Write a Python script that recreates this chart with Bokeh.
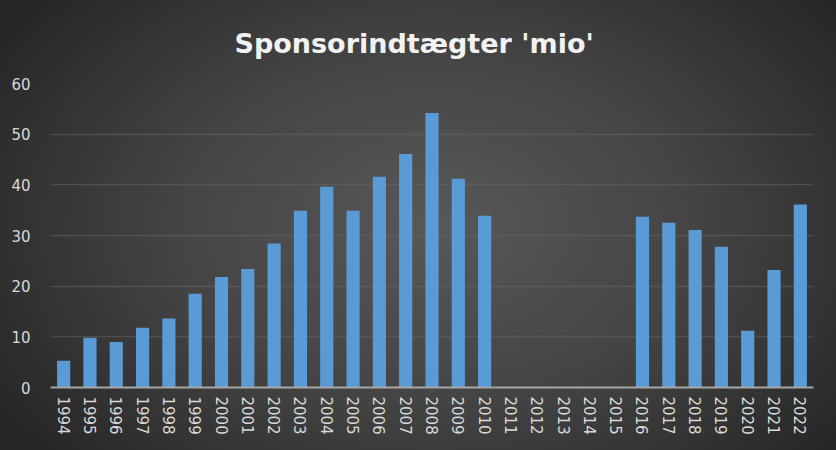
from bokeh.plotting import figure
from bokeh.models import FactorRange, Range1d, SingleIntervalTicker, InlineStyleSheet, Title
from bokeh.embed import file_html
from bokeh.resources import INLINE

years = [str(y) for y in range(1994, 2023)]
values = [5.3, 9.8, 9.0, 11.8, 13.6, 18.5, 21.8, 23.4, 28.4, 34.9, 39.6, 34.9,
          41.6, 46.1, 54.2, 41.2, 33.9, 0, 0, 0, 0, 0, 33.7, 32.5, 31.1, 27.8,
          11.2, 23.2, 36.1]
title_text = "Sponsorindtægter 'mio'"

p = figure(width=836, height=450, x_range=FactorRange(*years, range_padding=0),
           y_range=Range1d(0, 60), output_backend="svg", toolbar_location=None,
           min_border_left=50, min_border_right=23, min_border_top=83,
           min_border_bottom=63)

p.stylesheets = [InlineStyleSheet(css=":host { background: radial-gradient(ellipse 62% 78% at 52% 50%, #585858 0%, #444444 50%, #2f2f2f 85%, #262626 100%); }")]
p.background_fill_color = None
p.border_fill_color = None
p.outline_line_color = None

p.title = Title(text=title_text, align="left", offset=184,
                text_color="#f2f2f2", text_font="DejaVu Sans",
                text_font_size="27px", text_font_style="bold", standoff=50)

p.vbar(x=years, top=values, width=0.5, fill_color="#5b9bd5", line_color=None)

p.xgrid.grid_line_color = None
p.ygrid.grid_line_color = "#6a6a6a"
p.ygrid.grid_line_alpha = 0.45
p.ygrid.grid_line_width = 1.3

p.yaxis.ticker = SingleIntervalTicker(interval=10)
p.yaxis.axis_line_color = None
p.yaxis.major_tick_line_color = None
p.yaxis.minor_tick_line_color = None
p.yaxis.major_label_text_color = "#d9d9d9"
p.yaxis.major_label_text_font = "DejaVu Sans"
p.yaxis.major_label_text_font_size = "15px"
p.yaxis.major_label_standoff = 14

p.xaxis.axis_line_color = "#a6a6a6"
p.xaxis.axis_line_width = 2
p.xaxis.major_tick_line_color = None
p.xaxis.major_label_orientation = "vertical"
p.xaxis.major_label_text_color = "#d9d9d9"
p.xaxis.major_label_text_font = "DejaVu Sans"
p.xaxis.major_label_text_font_size = "15px"
p.xaxis.major_label_standoff = 3

open("out.html", "w").write(file_html(p, INLINE))
